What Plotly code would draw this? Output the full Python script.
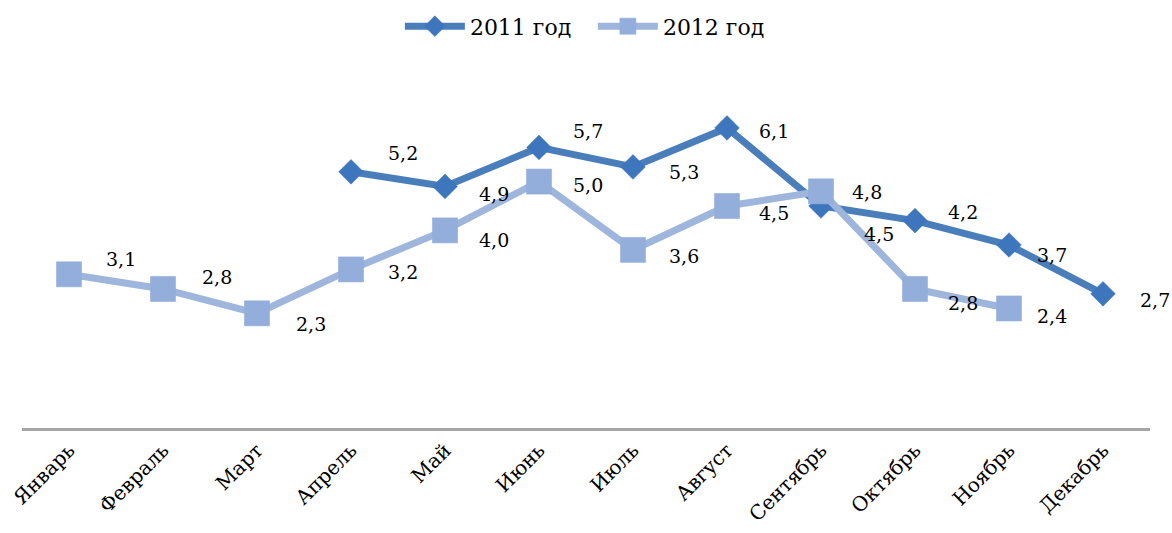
import plotly.graph_objects as go

months = ["Январь", "Февраль", "Март", "Апрель", "Май", "Июнь", "Июль",
          "Август", "Сентябрь", "Октябрь", "Ноябрь", "Декабрь"]
values_2011 = [None, None, None, 5.2, 4.9, 5.7, 5.3, 6.1, 4.5, 4.2, 3.7, 2.7]
values_2012 = [3.1, 2.8, 2.3, 3.2, 4.0, 5.0, 3.6, 4.5, 4.8, 2.8, 2.4, None]
series_names = ["2011 год", "2012 год"]

# label offsets in pixels (dx, dy-down) for each point
offsets_2011 = [None, None, None, (52, -19), (49, 8), (49, -16), (51, 5), (47, 3), (58, 28), (48, -9), (43, 10), (52, 6)]
offsets_2012 = [(52, -15), (54, -12), (54, 11), (52, 3), (49, 10), (49, 3), (51, 6), (47, 7), (46, 1), (48, 14), (43, 8), None]

FONT = "DejaVu Serif"
C2011_LINE = "#4a7ebb"
C2011_MARK = "#3d76bd"
C2012_LINE = "#9fb6dc"
C2012_MARK = "#93aedb"

fig = go.Figure()
fig.add_trace(go.Scatter(
    x=months, y=values_2011, name=series_names[0], mode="lines+markers",
    line=dict(color=C2011_LINE, width=7),
    marker=dict(symbol="diamond", size=19, color=C2011_MARK,
                line=dict(color="rgba(61,118,189,0.5)", width=1)),
    connectgaps=False,
))
fig.add_trace(go.Scatter(
    x=months, y=values_2012, name=series_names[1], mode="lines+markers",
    line=dict(color=C2012_LINE, width=7),
    marker=dict(symbol="square", size=25, color=C2012_MARK,
                line=dict(color="rgba(147,174,219,0.6)", width=1)),
    connectgaps=False,
))

def fmt(v):
    return f"{v:.1f}".replace(".", ",")

annotations = []
for vals, offs in ((values_2011, offsets_2011), (values_2012, offsets_2012)):
    for m, v, o in zip(months, vals, offs):
        if v is None:
            continue
        annotations.append(dict(
            x=m, y=v, text=fmt(v), showarrow=False,
            xshift=o[0], yshift=-o[1],
            font=dict(family=FONT, size=19, color="#000000"),
        ))

fig.update_layout(
    width=1172, height=533,
    margin=dict(l=22, r=22, t=84, b=105, autoexpand=False),
    paper_bgcolor="white", plot_bgcolor="white",
    font=dict(family=FONT, color="#000000"),
    separators=", ",
    showlegend=True,
    legend=dict(orientation="h", x=0.335, xanchor="left", y=0.99, yanchor="top",
                yref="container", font=dict(family=FONT, size=22),
                itemwidth=60, entrywidth=118, entrywidthmode="pixels",
                traceorder="normal"),
    annotations=annotations,
)
fig.update_xaxes(
    type="category", range=[-0.5, 11.5], tickangle=-45, automargin=False,
    tickfont=dict(family=FONT, size=20, color="#000000"),
    showline=True, linecolor="#a6a6a6", linewidth=2.5,
    showgrid=False, ticks="", zeroline=False,
)
fig.update_yaxes(
    range=[-0.05, 7], showticklabels=False, showgrid=False, automargin=False,
    zeroline=False, showline=False, ticks="",
)

# remove the default page margin so the figure fills the window exactly
fig.write_html("out.html", config={"displayModeBar": False},
               post_script="document.body.style.margin='0px';document.body.style.overflow='hidden';")
